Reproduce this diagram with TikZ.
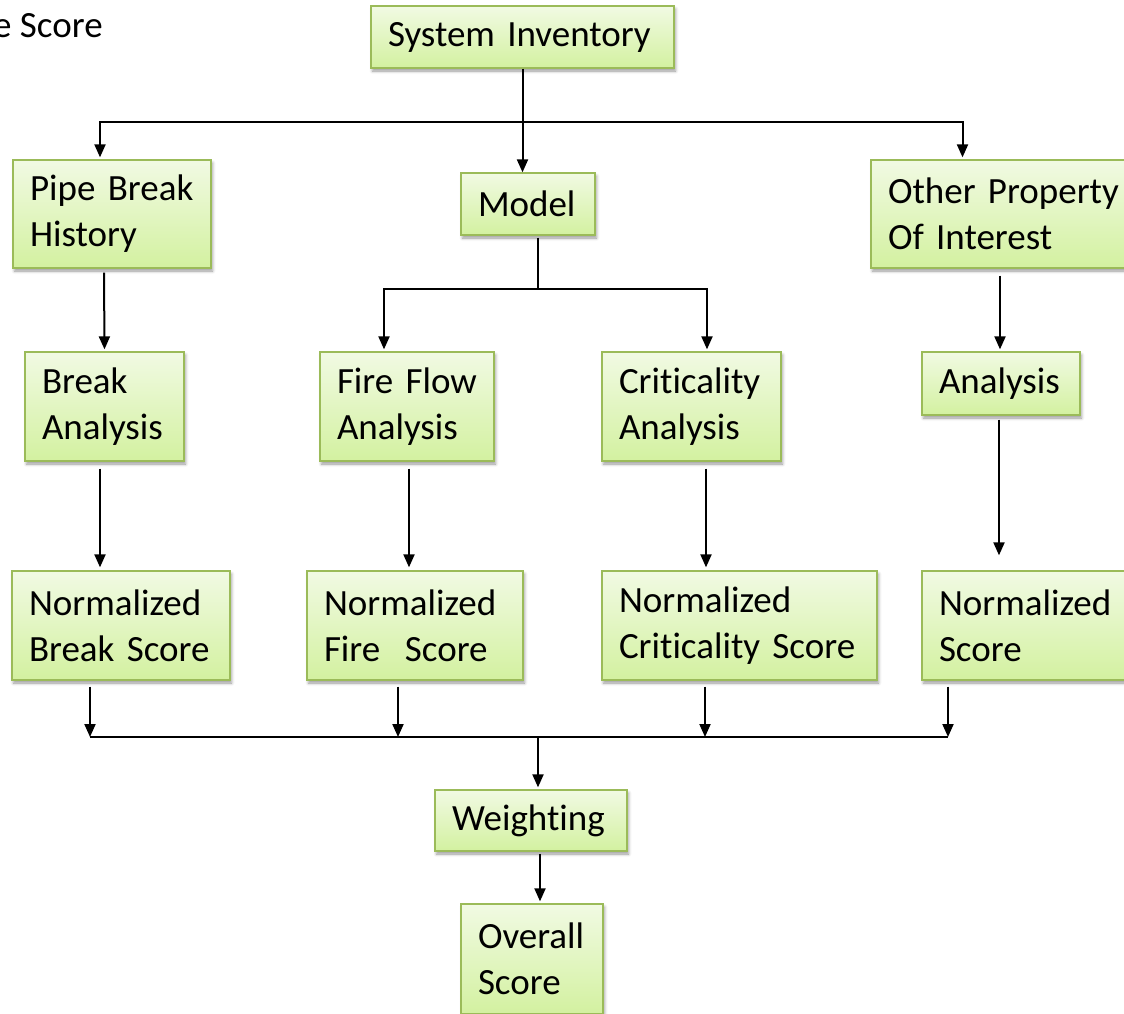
\documentclass[tikz,border=0pt]{standalone}
\usepackage{fontspec}
\setmainfont{Carlito}[Ligatures={NoCommon,NoRare,NoContextual}]
\usetikzlibrary{arrows.meta,calc,shadows.blur}
\definecolor{boxline}{HTML}{9BBB59}
\definecolor{boxtop}{HTML}{F1FAE3}
\definecolor{boxbot}{HTML}{D3F1A0}

% keeps "t" and "i" as separate glyphs
\newcommand\sep{\kern0pt}

\tikzset{
  flow/.style={draw=boxline, line width=1.3pt, top color=boxtop, bottom color=boxbot,
    align=left, inner xsep=17pt, inner ysep=0pt,
    font=\fontsize{37}{46}\selectfont,
    blur shadow={shadow xshift=1.5pt, shadow yshift=-3pt, shadow blur radius=3pt, shadow opacity=40}},
  link/.style={line width=1.6pt, black},
  arr/.style={line width=2pt, black, -{Triangle[length=13pt,width=11pt]}},
}

% box given by its corners (x1,y1)-(x2,y2), y measured downwards
\newcommand\flowbox[6]{%
  \pgfmathsetmacro\fbw{#4-#2}%
  \pgfmathsetmacro\fbh{#5-#3}%
  \pgfmathsetmacro\fbt{#4-#2-34}%
  \node[flow, text width=\fbt pt, minimum height=\fbh pt, minimum width=\fbw pt]
    (#1) at ({(#2+#4)/2},{(#3+#5)/2}) {#6};%
}

\begin{document}
\begin{tikzpicture}[x=1pt, y=-1pt]
\useasboundingbox (0,0) rectangle (1124,1013);

\node[anchor=west, inner sep=0pt, font=\fontsize{37}{46}\selectfont] (cut) at (-7,26) {e Score};

\flowbox{si}{371}{6}{674}{68}{System~Inventory}
\flowbox{pbh}{13}{160}{211}{268}{Pipe~Break\\History}
\flowbox{model}{461}{173}{595}{235}{Model}
\flowbox{opi}{871}{160}{1140}{268}{Other~Property\\Of~Interest}

\flowbox{ba}{25}{352}{184}{461}{Break\\Analysis}
\flowbox{ffa}{320}{352}{494}{461}{Fire~Flow\\Analysis}
\flowbox{ca}{602}{352}{781}{461}{Crit\sep icality\\Analysis}
\flowbox{an}{922}{352}{1080}{415}{Analysis}

\flowbox{nbs}{12}{571}{230}{680}{Normalized\\Break~Score}
\flowbox{nfs}{307}{571}{523}{680}{Normalized\\Fire~\ Score}
\flowbox{ncs}{602}{571}{877}{680}{Normalized\\Crit\sep icality~Score}
\flowbox{ns}{922}{571}{1140}{680}{Normalized\\Score}

\flowbox{wt}{435}{790}{627}{851}{Weight\sep ing}
\flowbox{ov}{461}{904}{603}{1014}{Overall\\Score}

% junction points of the branching lines
\coordinate (jtop) at (522,122);
\coordinate (jmod) at (538,289);
\coordinate (bl1) at (90,737);
\coordinate (bl2) at (398,737);
\coordinate (bl3) at (705,737);
\coordinate (bl4) at (948,737);
\coordinate (jbot) at (538,737);

% top fan-out
\draw[arr] (si.south) -- (si.south |- model.north);
\draw[arr] (jtop) -| ($(pbh.north)+(-12,-2)$);
\draw[arr] (jtop) -| ($(opi.north)+(-43,-2)$);

% model fan-out
\draw[link, line width=2pt] ($(model.south)+(10,2)$) -- (jmod);
\draw[arr] (jmod) -| ($(ffa.north)+(-23,-2)$);
\draw[arr] (jmod) -| ($(ca.north)+(15.5,-2)$);

% column chains
\draw[arr] ($(pbh.south)+(-8,4)$) -- ($(ba.north)+(0,-2)$);
\draw[arr] ($(ba.south)+(-4.5,7)$) -- ($(nbs.north)+(-21,-3)$);
\draw[arr] ($(ffa.south)+(2,7)$) -- ($(nfs.north)+(-6,-3)$);
\draw[arr] ($(ca.south)+(14.5,7)$) -- ($(ncs.north)+(-33.5,-3)$);
\draw[arr] ($(opi.south)+(-5.5,7)$) -- ($(an.north)+(-1,-2)$);
\draw[arr] ($(an.south)+(-2,4)$) -- ($(ns.north)+(-32,-15)$);

% gathering line
\draw[link] (bl1) -- (bl4);
\draw[arr] ($(nbs.south)+(-31,6)$) -- (bl1);
\draw[arr] ($(nfs.south)+(-17,6)$) -- (bl2);
\draw[arr] ($(ncs.south)+(-34.5,6)$) -- (bl3);
\draw[arr] ($(ns.south)+(-83,6)$) -- (bl4);

\draw[arr] (jbot) -- ($(wt.north)+(7,-2)$);
\draw[arr] ($(wt.south)+(9,2)$) -- ($(ov.north)+(8,-2)$);
\end{tikzpicture}
\end{document}
